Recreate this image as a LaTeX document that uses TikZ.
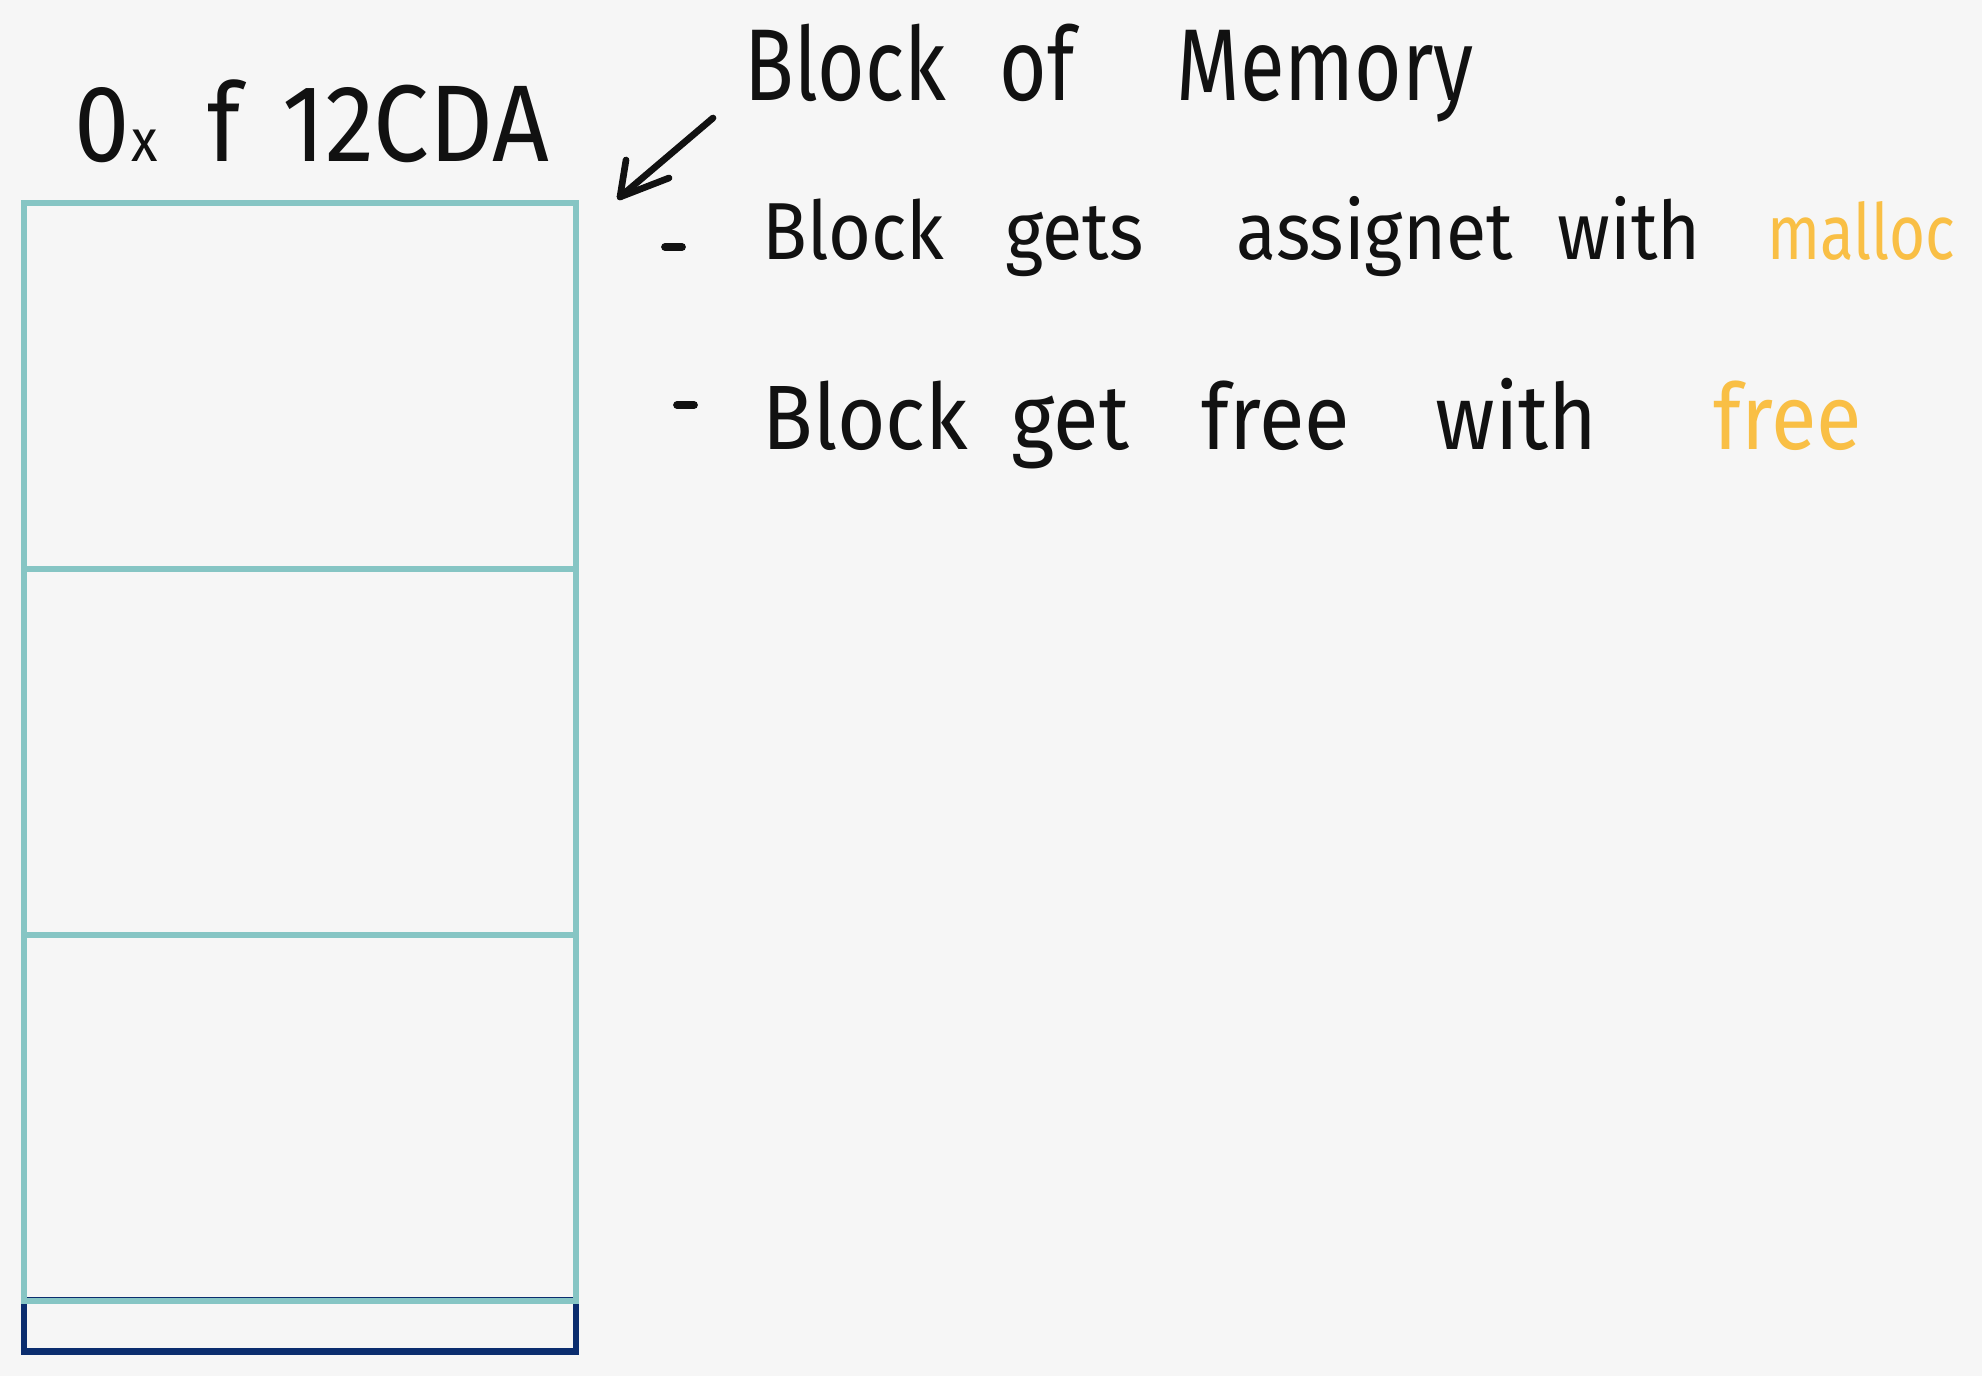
\documentclass[tikz,border=0pt]{standalone}
\usepackage{fontspec}
\newfontfamily\hand[FakeStretch=0.8]{Fira Sans}
\newfontfamily\handw[FakeStretch=0.91]{Fira Sans}
\definecolor{paper}{HTML}{F6F6F6}
\definecolor{tealc}{HTML}{86C5C4}
\definecolor{navyc}{HTML}{0B2D6E}
\definecolor{orangec}{HTML}{F9BF45}
\definecolor{inkc}{HTML}{111111}
\tikzset{
  cellbox/.style={draw=tealc, line width=1.8pt, rectangle, inner sep=0pt,
    minimum width=5.52cm, minimum height=3.66cm},
  basebox/.style={draw=navyc, line width=1.8pt, rectangle, inner sep=0pt,
    minimum width=5.52cm, minimum height=0.51cm},
  word/.style={anchor=base west, inner sep=0pt, text=inkc, font=\hand},
  ink/.style={draw=inkc, line width=1.9pt, line cap=round, line join=round},
}
\begin{document}
\begin{tikzpicture}[x=0.01cm,y=-0.01cm]
\useasboundingbox (0,0) rectangle (1982,1376);
\fill[paper] (0,0) rectangle (1982,1376);

% memory block
\node[basebox] (cell4) at (300,1326) {};
\node[cellbox] (cell1) at (300,386) {};
\node[cellbox] (cell2) at (300,752) {};
\node[cellbox] (cell3) at (300,1118) {};

% address
\node[word, font=\handw\fontsize{31}{36}\selectfont] (a0) at (74,162) {0};
\node[word, font=\handw\fontsize{17}{20}\selectfont] (ax) at (a0.base east) {x};
\node[word, font=\handw\fontsize{31}{36}\selectfont] (af) at (207,162) {f};
\node[word, font=\handw\fontsize{31}{36}\selectfont] (anum) at (282,162) {12CDA};

% title
\node[word, font=\hand\fontsize{29}{34}\selectfont] (tb) at (744,101) {Block};
\node[word, font=\hand\fontsize{29}{34}\selectfont] (to) at (999,101) {of};
\node[word, font=\hand\fontsize{29}{34}\selectfont] (tm) at (1176,101) {Memory};

% arrow
\coordinate (arS) at (713,118);
\coordinate (arT) at (620,197);
\coordinate (arL) at (626,160);
\coordinate (arR) at (669,178);
\draw[ink] (arS) -- (arT);
\draw[ink] (arL) -- (arT) -- (arR);

% bullet 1
\coordinate (d1a) at (665,247);
\coordinate (d1b) at (682,247);
\draw[ink, line width=2.2pt] (d1a) -- (d1b);
\node[word, font=\handw\fontsize{23}{28}\selectfont] (b1w1) at (762,259) {Block};
\node[word, font=\handw\fontsize{23}{28}\selectfont] (b1w2) at (1005,259) {gets};
\node[word, font=\handw\fontsize{23}{28}\selectfont] (b1w3) at (1236,259) {assignet};
\node[word, font=\handw\fontsize{23}{28}\selectfont] (b1w4) at (1557,259) {with};
\node[word, font=\hand\fontsize{22}{27}\selectfont, text=orangec] (b1w5) at (1767,259) {malloc};

% bullet 2
\coordinate (d2a) at (677,405);
\coordinate (d2b) at (694,405);
\draw[ink, line width=2.2pt] (d2a) -- (d2b);
\node[word, font=\handw\fontsize{26}{31}\selectfont] (b2w1) at (762,449) {Block};
\node[word, font=\handw\fontsize{26}{31}\selectfont] (b2w2) at (1011,449) {get};
\node[word, font=\handw\fontsize{26}{31}\selectfont] (b2w3) at (1201,449) {free};
\node[word, font=\handw\fontsize{26}{31}\selectfont] (b2w4) at (1435,449) {with};
\node[word, font=\handw\fontsize{26}{31}\selectfont, text=orangec] (b2w5) at (1713,449) {free};
\end{tikzpicture}
\end{document}
